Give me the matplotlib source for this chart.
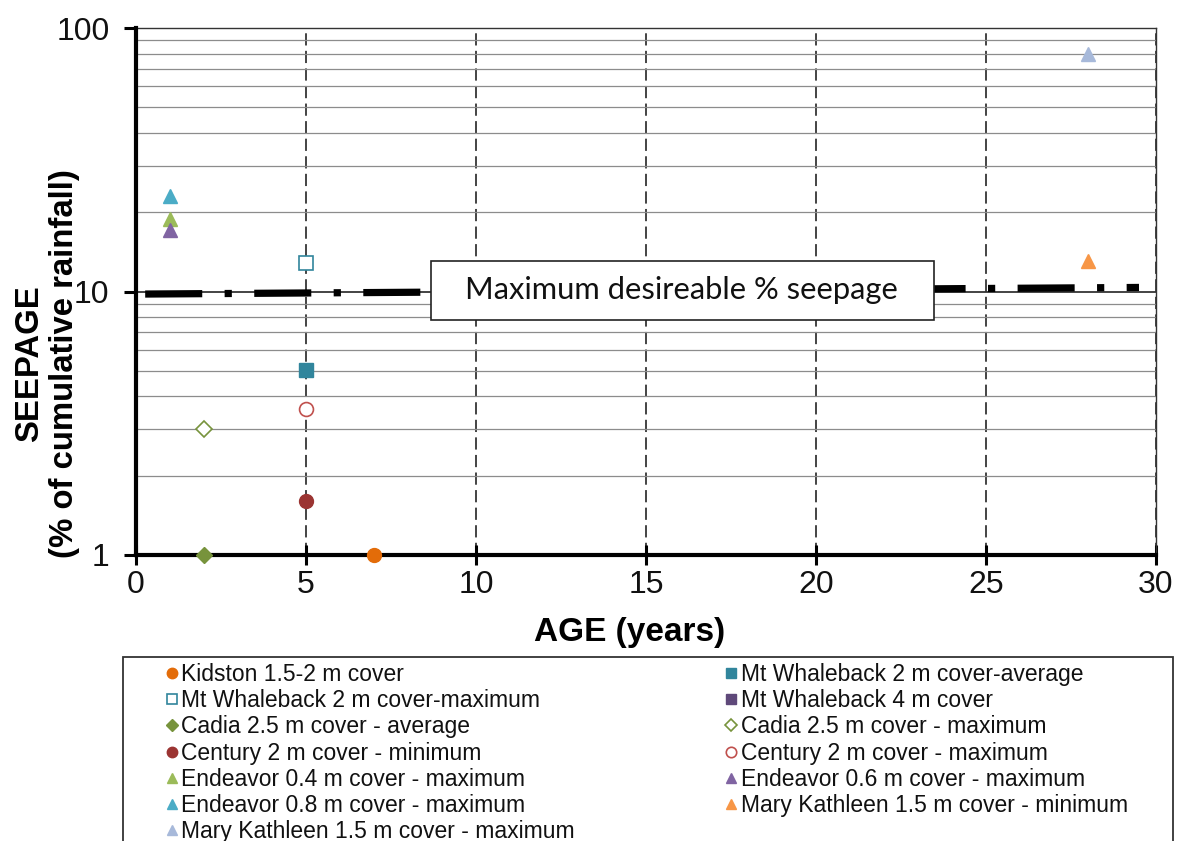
import matplotlib
matplotlib.use("Agg")
import matplotlib.pyplot as plt
from matplotlib.patches import Rectangle
from matplotlib.ticker import FixedLocator, NullFormatter, FixedFormatter

plt.rcParams['font.family'] = ['Liberation Sans', 'DejaVu Sans']

# ---- data ----
series_names = [
    "Kidston 1.5-2 m cover",
    "Mt Whaleback 2 m cover-average",
    "Mt Whaleback 2 m cover-maximum",
    "Mt Whaleback 4 m cover",
    "Cadia 2.5 m cover - average",
    "Cadia 2.5 m cover - maximum",
    "Century 2 m cover - minimum",
    "Century 2 m cover - maximum",
    "Endeavor 0.4 m cover - maximum",
    "Endeavor 0.6 m cover - maximum",
    "Endeavor 0.8 m cover - maximum",
    "Mary Kathleen 1.5 m cover - minimum",
    "Mary Kathleen 1.5 m cover - maximum",
]
kidston_age = [7];          kidston_seep = [1.0]
mtw2_avg_age = [5];         mtw2_avg_seep = [5.05]
mtw2_max_age = [5];         mtw2_max_seep = [12.8]
mtw4_age = [];              mtw4_seep = []
cadia_avg_age = [2];        cadia_avg_seep = [1.0]
cadia_max_age = [2];        cadia_max_seep = [3.0]
century_min_age = [5];      century_min_seep = [1.6]
century_max_age = [5];      century_max_seep = [3.58]
end04_age = [1];            end04_seep = [18.8]
end06_age = [1];            end06_seep = [17.1]
end08_age = [1];            end08_seep = [23.0]
mk_min_age = [28];          mk_min_seep = [13.1]
mk_max_age = [28];          mk_max_seep = [79.5]

threshold_age = [0.27, 29.5]
threshold_seep = [9.78, 10.36]
threshold_label = "Maximum desireable % seepage"

x_ticks = [0, 5, 10, 15, 20, 25, 30]
y_ticks = [1, 10, 100]
y_tick_labels = ["1", "10", "100"]

# ---- figure ----
fig = plt.figure(figsize=(11.84, 8.41), dpi=100)
ax = fig.add_axes([136/1184, 1-555/841, (1156-136)/1184, (555-28)/841])
ax.set_yscale('log')
ax.set_xlim(0, 30)
ax.set_ylim(1, 100)

# grid
minor_y = [m * d for d in (1, 10) for m in range(2, 10)]
ax.yaxis.set_minor_locator(FixedLocator(minor_y))
ax.yaxis.set_minor_formatter(NullFormatter())
ax.yaxis.set_major_locator(FixedLocator(y_ticks))
ax.yaxis.set_major_formatter(FixedFormatter(y_tick_labels))
ax.set_xticks(x_ticks)
ax.grid(True, which='minor', axis='y', color='#8c8c8c', lw=0.9, zorder=0)
ax.grid(True, which='major', axis='y', color='#111111', lw=1.1, zorder=0)
ax.grid(True, which='major', axis='x', color='#111111', lw=1.1,
        linestyle=(0, (8, 3.5)), zorder=0)
ax.tick_params(axis='y', which='minor', length=0)

styles = [
    dict(marker='o', color='#E36C09', mfc='#E36C09', ms=10),
    dict(marker='s', color='#31859C', mfc='#31859C', ms=10),
    dict(marker='s', color='#31859C', mfc='white', ms=10, mew=1.2),
    dict(marker='s', color='#5F497A', mfc='#5F497A', ms=10),
    dict(marker='D', color='#77933C', mfc='#77933C', ms=8.5),
    dict(marker='D', color='#77933C', mfc='white', ms=8.5, mew=1.2),
    dict(marker='o', color='#9B3432', mfc='#9B3432', ms=10),
    dict(marker='o', color='#C0504D', mfc='white', ms=10, mew=1.2),
    dict(marker='^', color='#9BBB59', mfc='#9BBB59', ms=10.5),
    dict(marker='^', color='#8064A2', mfc='#8064A2', ms=10.5),
    dict(marker='^', color='#4BACC6', mfc='#4BACC6', ms=10.5),
    dict(marker='^', color='#F79646', mfc='#F79646', ms=10.5),
    dict(marker='^', color='#A7B9DA', mfc='#A7B9DA', ms=10.5),
]
xs = [kidston_age, mtw2_avg_age, mtw2_max_age, mtw4_age, cadia_avg_age, cadia_max_age,
      century_min_age, century_max_age, end04_age, end06_age, end08_age, mk_min_age, mk_max_age]
ys = [kidston_seep, mtw2_avg_seep, mtw2_max_seep, mtw4_seep, cadia_avg_seep, cadia_max_seep,
      century_min_seep, century_max_seep, end04_seep, end06_seep, end08_seep, mk_min_seep, mk_max_seep]

handles = []
for name, x, y, st in zip(series_names, xs, ys, styles):
    h, = ax.plot(x, y, linestyle='none', label=name, clip_on=False, zorder=9,
                 markeredgecolor=st['color'], markerfacecolor=st['mfc'],
                 marker=st['marker'], markersize=st['ms'], markeredgewidth=st.get('mew', 1.0))
    handles.append(h)

# threshold line
ax.plot(threshold_age, threshold_seep, color='black', lw=5.2,
        linestyle=(0, (7.9, 3.1, 1.0, 3.1)), solid_capstyle='butt',
        dash_capstyle='butt', zorder=3)

# text box
ax.add_patch(Rectangle((0.2892, 0.4459), 0.7824-0.2892, 0.5579-0.4459,
                       transform=ax.transAxes, facecolor='white', edgecolor='#222222',
                       lw=1.2, zorder=6))
ax.text(0.5348, 0.5019, threshold_label, transform=ax.transAxes, ha='center', va='center',
        fontsize=22.2, family=['Lato', 'DejaVu Sans'], color='#111111', zorder=7)

# spines
for s in ('left', 'bottom'):
    ax.spines[s].set_linewidth(3.0)
    ax.spines[s].set_color('black')
for s in ('top', 'right'):
    ax.spines[s].set_linewidth(1.0)
    ax.spines[s].set_color('#333333')
ax.spines['left'].set_zorder(8)
ax.spines['bottom'].set_zorder(8)

ax.tick_params(axis='x', which='major', direction='inout', length=14, width=2.2,
               labelsize=23, pad=4, labelcolor='#111111')
ax.tick_params(axis='y', which='major', direction='out', length=9, width=2.2,
               labelsize=23, pad=10, labelcolor='#111111')

fig.text(630/1184, 1-633/841, "AGE (years)", ha='center', va='center',
         fontsize=24, fontweight='bold')
fig.text(47/1184, 1-364/841, "SEEPAGE\n(% of cumulative rainfall)", ha='center', va='center',
         rotation=90, fontsize=23.7, fontweight='bold', linespacing=1.15, multialignment='center')

# legend frame
fig.patches.append(Rectangle((123/1184, -0.05), (1173-123)/1184, (1-657/841)+0.05,
                             transform=fig.transFigure, facecolor='white', edgecolor='#333333',
                             lw=1.3, zorder=0))
order = [0, 2, 4, 6, 8, 10, 12, 1, 3, 5, 7, 9, 11]
leg = fig.legend([handles[i] for i in order], [series_names[i] for i in order],
                 loc='upper left', bbox_to_anchor=(166/1184, 1-663/841), ncol=2,
                 frameon=False, fontsize=16.5, handlelength=0.5, handletextpad=0.15,
                 labelspacing=0.14, columnspacing=6.6, borderpad=0, borderaxespad=0,
                 markerscale=0.75, numpoints=1)
for t in leg.get_texts():
    t.set_color('#111111')

fig.savefig('out.png', dpi=100)
